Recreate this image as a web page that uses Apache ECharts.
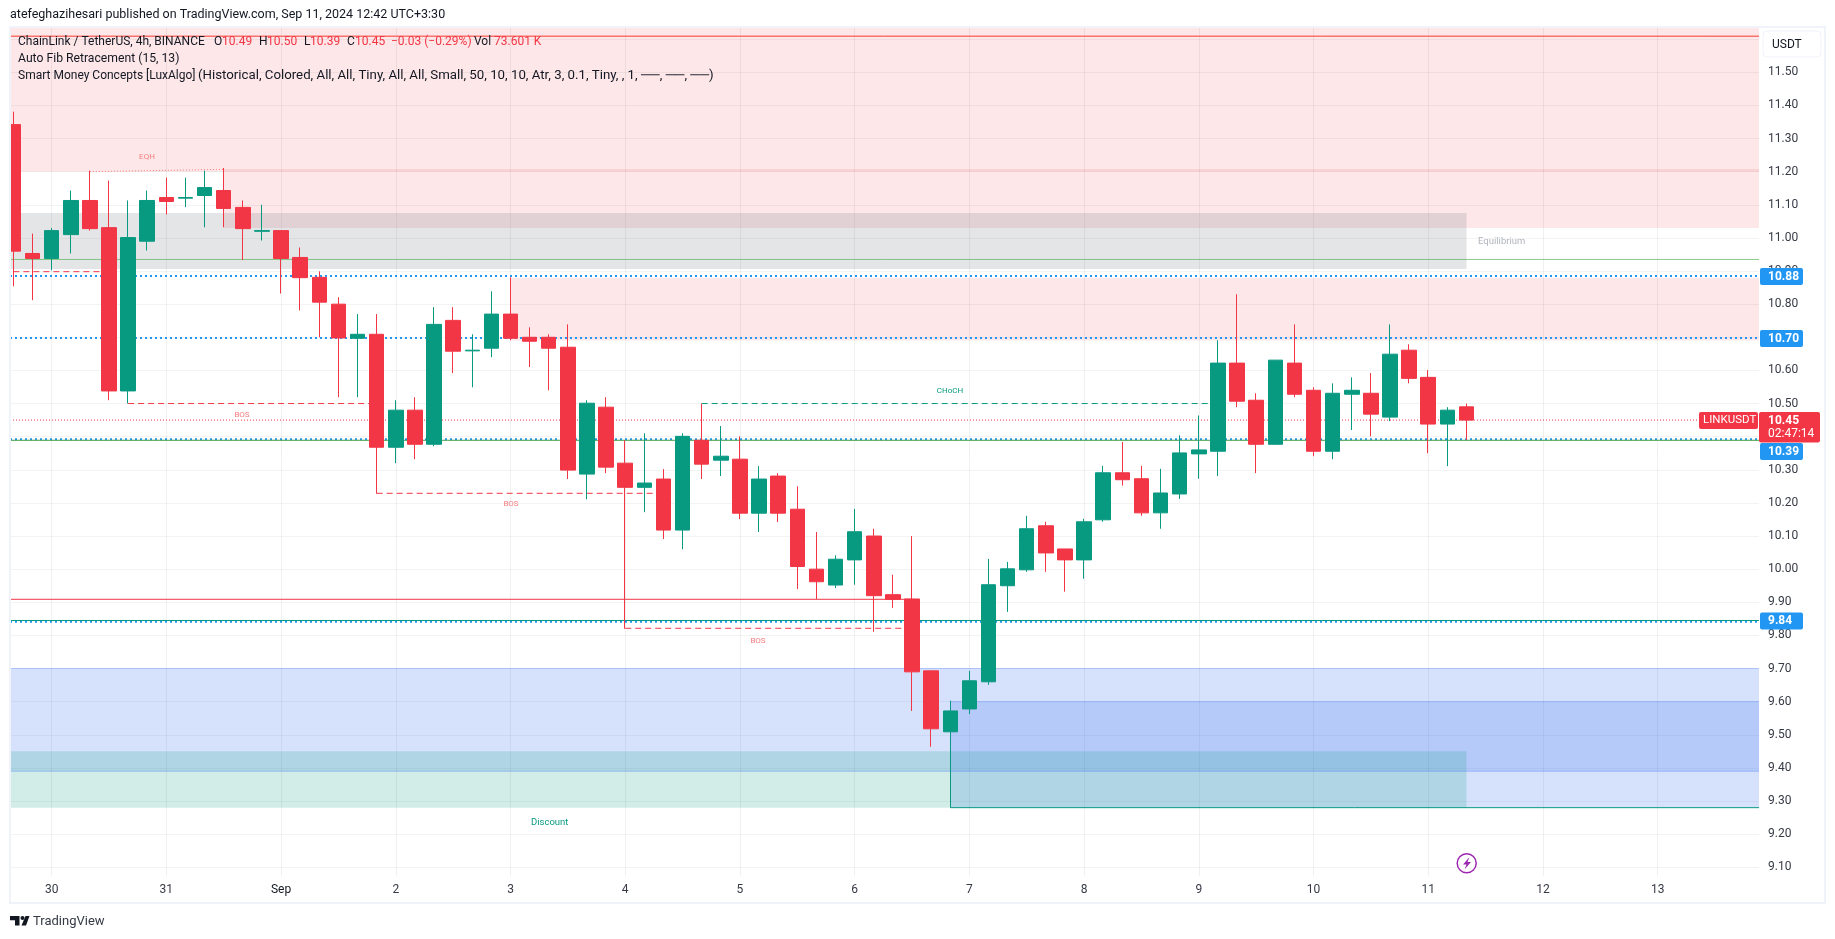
<!DOCTYPE html>
<html>
<head>
<meta charset="utf-8">
<title>LINKUSDT 4h</title>
<script src="https://cdn.jsdelivr.net/npm/echarts@6/dist/echarts.min.js"></script>
<style>html,body{margin:0;padding:0;background:#fff}#c{width:1835px;height:939px}</style>
</head>
<body>
<div id="c"></div>
<script>
// Each candle: open, close, low, high (4h bars, left to right)
const candles = [
[11.342,10.960,10.854,11.381],[10.953,10.938,10.812,11.013],[10.938,11.022,10.902,11.030],[11.010,11.113,10.953,11.143],
[11.113,11.028,11.022,11.203],[11.031,10.538,10.510,11.173],[10.538,11.001,10.500,11.113],[10.990,11.113,10.962,11.143],
[11.122,11.110,11.071,11.182],[11.120,11.122,11.093,11.182],[11.128,11.152,11.032,11.203],[11.143,11.089,11.032,11.211],
[11.092,11.028,10.933,11.113],[11.020,11.022,10.992,11.100],[11.022,10.938,10.832,11.022],[10.941,10.880,10.781,10.971],
[10.881,10.806,10.700,10.899],[10.800,10.698,10.519,10.821],[10.697,10.709,10.519,10.770],[10.709,10.368,10.228,10.770],
[10.368,10.480,10.320,10.510],[10.480,10.377,10.332,10.519],[10.377,10.739,10.371,10.791],[10.751,10.658,10.592,10.791],
[10.659,10.661,10.549,10.709],[10.667,10.770,10.640,10.839],[10.770,10.697,10.691,10.881],[10.700,10.688,10.610,10.730],
[10.700,10.667,10.540,10.709],[10.670,10.299,10.272,10.739],[10.287,10.501,10.211,10.510],[10.489,10.308,10.290,10.519],
[10.320,10.247,9.820,10.389],[10.247,10.260,10.172,10.410],[10.272,10.118,10.091,10.302],[10.118,10.401,10.060,10.410],
[10.389,10.317,10.272,10.500],[10.329,10.341,10.281,10.432],[10.332,10.169,10.151,10.401],[10.169,10.272,10.112,10.311],
[10.281,10.169,10.142,10.290],[10.181,10.008,9.940,10.250],[10.000,9.962,9.910,10.112],[9.952,10.030,9.943,10.042],
[10.028,10.113,9.953,10.182],[10.100,9.920,9.811,10.122],[9.923,9.909,9.883,9.983],[9.910,9.690,9.572,10.100],
[9.693,9.518,9.464,9.693],[9.509,9.572,9.280,9.603],[9.578,9.663,9.563,9.693],[9.660,9.953,9.651,10.031],
[9.950,10.001,9.871,10.022],[9.998,10.122,9.992,10.161],[10.131,10.049,9.992,10.143],[10.061,10.028,9.932,10.061],
[10.028,10.143,9.971,10.152],[10.149,10.291,10.143,10.312],[10.291,10.270,10.252,10.384],[10.273,10.170,10.161,10.312],
[10.170,10.230,10.122,10.303],[10.227,10.351,10.212,10.404],[10.348,10.360,10.273,10.464],[10.356,10.622,10.281,10.691],
[10.622,10.507,10.489,10.830],[10.510,10.377,10.290,10.531],[10.377,10.631,10.377,10.631],[10.622,10.528,10.519,10.739],
[10.540,10.356,10.341,10.549],[10.356,10.531,10.332,10.561],[10.528,10.540,10.420,10.579],[10.531,10.468,10.401,10.592],
[10.459,10.649,10.447,10.739],[10.661,10.576,10.561,10.679],[10.579,10.438,10.350,10.601],[10.438,10.480,10.311,10.489],
[10.490,10.450,10.390,10.500]
];
// Axis ticks
const dayLabels = ['30','31','Sep','2','3','4','5','6','7','8','9','10','11','12','13'];
const dayBars = [2,8,14,20,26,32,38,44,50,56,62,68,74,80,86];
const gridPrices = [9.1,9.2,9.3,9.4,9.5,9.6,9.7,9.8,9.9,10,10.1,10.2,10.3,10.4,10.5,10.6,10.7,10.8,10.9,11,11.1,11.2,11.3,11.4,11.5,11.6];
const labelPrices = [9.1,9.2,9.3,9.4,9.5,9.6,9.7,9.8,9.9,10,10.1,10.2,10.3,10.5,10.6,10.8,10.9,11,11.1,11.2,11.3,11.4,11.5];
// Zones: [from bar, to bar, low price, high price]; null means the edge of the chart
const premiumZone = [null,null,11.20,null];
const supplyZoneA = [11,null,11.03,11.208];
const supplyZoneB = [26,null,10.69,10.88];
const equilibriumZone = [null,76,10.906,11.075];
const demandZoneA = [null,null,9.39,9.70];
const demandZoneB = [49,null,9.28,9.60];
const discountZone = [null,76,9.28,9.45];
// Level lines: [from bar, to bar, price]
const topLine = [null,null,11.609];
const equilibriumLine = [null,null,10.935];
const fibLevels = [[null,null,10.885],[null,null,10.698],[null,null,10.392],[null,null,9.8415]];
const greenLine = [null,null,10.389];
const tealLine = [null,null,9.845];
const lowLine = [49,null,9.28];
const redLevel = [null,47,9.909];
const priceLine = [null,null,10.45];
const demandBorders = [[null,null,9.70],[null,null,9.39],[49,null,9.60]];
const bosLines = [[0,5,10.898],[6,19,10.50],[19,34,10.229],[32,47,9.8215]];
const chochLine = [36,63,10.50];
const eqhLine = [[4,11.20],[11,11.207]];
// Legend readout
const legendTitle = 'ChainLink / TetherUS, 4h, BINANCE';
const legendValues = [['O','10.49'],['H','10.50'],['L','10.39'],['C','10.45']];
const legendChange = '−0.03 (−0.29%)';
const legendVolume = '73.601 K';

const X_MIN=-0.178, X_MAX=91.3, Y_MIN=9.0737, Y_MAX=11.6367;
const UP='#089981', DOWN='#F23645', FONT='Roboto, "Noto Sans", sans-serif';

function lx(v,edge){return v===null?edge:v;}
function zone(z,color){
  return [{xAxis:lx(z[0],X_MIN),yAxis:z[2]===null?Y_MIN:z[2],itemStyle:{color:color,borderWidth:0}},
          {xAxis:lx(z[1],X_MAX),yAxis:z[3]===null?Y_MAX:z[3]}];
}
function line(l,color,width,type){
  return {type:'line',silent:true,symbol:'none',z:2,animation:false,
    data:[[lx(l[0],X_MIN),l[2]],[lx(l[1],X_MAX),l[2]]],
    lineStyle:{color:color,width:width,type:type||'solid'}};
}
const pink='rgba(242,54,69,0.12)', blue='rgba(50,110,240,0.2)', teal='rgba(8,153,129,0.18)', grey='rgba(120,123,134,0.2)';
const blueEdge='rgba(41,98,255,0.28)';

const series=[
 {type:'line',silent:true,symbol:'none',z:1,data:[],
  markArea:{silent:true,z:1,data:[
    zone(premiumZone,pink),zone(supplyZoneA,pink),zone(supplyZoneB,pink),
    zone(equilibriumZone,grey),zone(demandZoneA,blue),zone(demandZoneB,blue),zone(discountZone,teal)]}},
 line(topLine,'#F9382E',1),
 line(equilibriumLine,'rgba(76,175,80,0.65)',1),
 line(priceLine,'#F23645',1,[1,2]),
 ...demandBorders.map(l=>line(l,blueEdge,1)),
 ...fibLevels.map(l=>line(l,'#2196F3',2,[2,3])),
 line(greenLine,'#43A047',1),
 line(tealLine,UP,1),
 line(lowLine,UP,1),
 line(redLevel,'#F23645',1),
 ...bosLines.map(l=>line(l,'#F23645',1,[6,4])),
 line(chochLine,UP,1,[6,4]),
 {type:'line',silent:true,symbol:'none',z:2,data:eqhLine,lineStyle:{color:'#F77C80',width:1,type:[1,2]}},
 {type:'candlestick',z:5,barWidth:15,silent:true,clip:true,
  data:candles.map((c,i)=>[i,c[0],c[1],c[2],c[3]]),
  encode:{x:0,y:[1,2,3,4]},
  itemStyle:{color:UP,color0:DOWN,borderColor:UP,borderColor0:DOWN,borderWidth:1}}
];

function txt(x,y,text,o){
  return {type:'text',z:50,x:x,y:y,silent:true,
    style:Object.assign({text:text,fill:'#131722',font:'12px '+FONT,verticalAlign:'middle',align:'left'},o||{})};
}
function box(x,y,w,h,fill){return {type:'rect',z:40,silent:true,shape:{x:x,y:y,width:w,height:h,r:2},style:{fill:fill}};}
const R=DOWN;
const legendLetterX=[214,259,304,347], legendValueX=[222,267,310,355];

const graphic=[
 // The first candle is cut by the chart's left edge
 {type:'rect',z:20,silent:true,shape:{x:0,y:27,width:10,height:876},style:{fill:'#fff'}},
 {type:'rect',z:30,silent:true,shape:{x:10,y:27,width:1815,height:876},style:{fill:'none',stroke:'#F0F3FA',lineWidth:2}},
 txt(10,15,'atefeghazihesari published on TradingView.com, Sep 11, 2024 12:42 UTC+3:30',{font:'12.5px '+FONT}),
 txt(18,42,legendTitle),
 ...legendValues.flatMap((v,i)=>[txt(legendLetterX[i],42,v[0]),txt(legendValueX[i],42,v[1],{fill:R})]),
 txt(391,42,legendChange,{fill:R}),
 txt(474,42,'Vol'),
 txt(494,42,legendVolume,{fill:R}),
 txt(18,59,'Auto Fib Retracement (15, 13)',{font:'12.2px '+FONT}),
 txt(18,76,'Smart Money Concepts [LuxAlgo]'),
 txt(198,76,'(Historical, Colored, All, All, Tiny, All, All, Small, 50, 10, 10, Atr, 3, 0.1, Tiny, , 1, ──, ──, ──)',{font:'13.25px '+FONT}),
 txt(147,157,'EQH',{fill:'#F77C80',font:'8px '+FONT,align:'center'}),
 txt(242,415,'BOS',{fill:'#F77C80',font:'8px '+FONT,align:'center'}),
 txt(511,504,'BOS',{fill:'#F77C80',font:'8px '+FONT,align:'center'}),
 txt(758,641,'BOS',{fill:'#F77C80',font:'8px '+FONT,align:'center'}),
 txt(950,391,'CHoCH',{fill:'#089981',font:'8px '+FONT,align:'center'}),
 txt(1478,242,'Equilibrium',{fill:'#B2B5BE',font:'9.5px '+FONT}),
 txt(531,823,'Discount',{fill:UP,font:'9.5px '+FONT}),
 // USDT currency box
 {type:'rect',z:40,silent:true,shape:{x:1763,y:31,width:58,height:26,r:4},style:{fill:'#fff',stroke:'#F0F3FA',lineWidth:1}},
 txt(1772,45,'USDT'),
 // Price axis flags
 box(1760,268,43,17,'#2196F3'), txt(1768,276.5,'10.88',{fill:'#fff',font:'bold 12px '+FONT}),
 box(1760,330,43,17,'#2196F3'), txt(1768,338.5,'10.70',{fill:'#fff',font:'bold 12px '+FONT}),
 box(1760,443,43,17,'#2196F3'), txt(1768,451.5,'10.39',{fill:'#fff',font:'bold 12px '+FONT}),
 box(1760,612.5,43,17,'#2196F3'), txt(1768,621,'9.84',{fill:'#fff',font:'bold 12px '+FONT}),
 box(1699,412,59,17,R), txt(1703,420.5,'LINKUSDT',{fill:'#fff',font:'11.5px '+FONT}),
 box(1759,412,61,30.5,R), txt(1768,420.5,'10.45',{fill:'#fff',font:'bold 12px '+FONT}),
 txt(1768,434,'02:47:14',{fill:'#fff',font:'12px '+FONT}),
 // Lightning icon
 {type:'circle',z:40,silent:true,shape:{cx:1466.7,cy:863.3,r:9.5},style:{fill:'#fff',stroke:'#9C27B0',lineWidth:1.5}},
 {type:'polygon',z:41,silent:true,shape:{points:[[1469.5,857],[1463,864.5],[1466.5,864.5],[1464.5,869.5],[1471,862],[1467.5,862]]},style:{fill:'#9C27B0'}},
 // TradingView mark
 {type:'polygon',z:40,silent:true,shape:{points:[[10,916],[19.5,916],[19.5,925.5],[15,925.5],[15,920.3],[10,920.3]]},style:{fill:'#131722'}},
 {type:'circle',z:40,silent:true,shape:{cx:22.5,cy:918,r:2},style:{fill:'#131722'}},
 {type:'polygon',z:40,silent:true,shape:{points:[[25.5,916],[29.5,916],[26,925.5],[21.5,925.5]]},style:{fill:'#131722'}},
 txt(33,922,'TradingView',{font:'13px '+FONT,fill:'#363A45'})
];

const chart=echarts.init(document.getElementById('c'),null,{renderer:'canvas'});
chart.setOption({
  animation:false,
  backgroundColor:'#fff',
  grid:{left:10,top:27,width:1749,height:849,containLabel:false},
  xAxis:{type:'value',min:X_MIN,max:X_MAX,
    axisLine:{show:false},
    axisTick:{show:false,customValues:dayBars},
    axisLabel:{show:true,customValues:dayBars,margin:8,showMinLabel:true,showMaxLabel:true,
      fontFamily:FONT,fontSize:12,color:'#363A45',
      formatter:v=>{const s=dayLabels[dayBars.indexOf(v)];return s==='Sep'?'{m|Sep}':s;},
      rich:{m:{color:'#131722',fontFamily:FONT,fontSize:12}}},
    splitLine:{show:true,lineStyle:{color:'rgba(42,46,57,0.07)',width:1}}},
  yAxis:{type:'value',position:'right',min:Y_MIN,max:Y_MAX,
    axisLine:{show:false},
    axisTick:{show:false,customValues:gridPrices},
    axisLabel:{show:true,customValues:labelPrices,margin:9,fontFamily:FONT,fontSize:12,color:'#363A45',
      formatter:v=>v.toFixed(2)},
    splitLine:{show:true,lineStyle:{color:'rgba(42,46,57,0.06)',width:1}}},
  series:series,
  graphic:graphic
});
</script>
</body>
</html>
